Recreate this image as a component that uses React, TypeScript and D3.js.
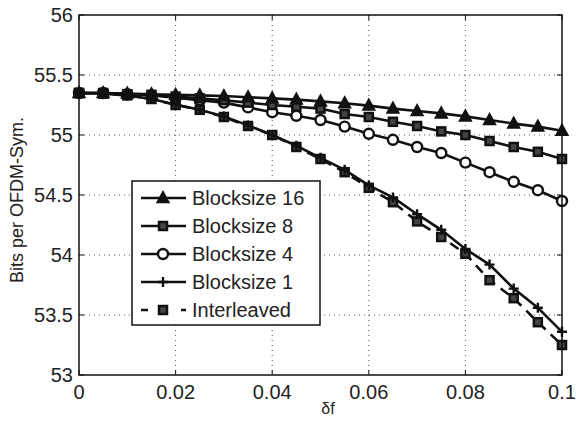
import React, { useEffect, useRef } from "react";
import * as d3 from "d3";

// δf sample points
const deltaF = [
  0, 0.005, 0.01, 0.015, 0.02, 0.025, 0.03, 0.035, 0.04, 0.045, 0.05,
  0.055, 0.06, 0.065, 0.07, 0.075, 0.08, 0.085, 0.09, 0.095, 0.1,
];

const block16 = [
  55.35, 55.35, 55.345, 55.34, 55.335, 55.33, 55.325, 55.315, 55.305, 55.295, 55.28,
  55.265, 55.245, 55.22, 55.2, 55.18, 55.155, 55.125, 55.095, 55.07, 55.035,
];
const block8 = [
  55.35, 55.35, 55.34, 55.335, 55.32, 55.305, 55.29, 55.27, 55.25, 55.235, 55.22,
  55.175, 55.15, 55.11, 55.075, 55.03, 55.0, 54.95, 54.9, 54.86, 54.8,
];
const block4 = [
  55.35, 55.35, 55.34, 55.33, 55.31, 55.29, 55.27, 55.23, 55.19, 55.16, 55.125,
  55.07, 55.01, 54.96, 54.9, 54.85, 54.77, 54.69, 54.61, 54.54, 54.45,
];
const block1 = [
  55.35, 55.345, 55.33, 55.3, 55.255, 55.21, 55.155, 55.08, 55.0, 54.91, 54.81,
  54.71, 54.58, 54.48, 54.34, 54.21, 54.05, 53.92, 53.72, 53.56, 53.36,
];
const interleaved = [
  55.35, 55.345, 55.33, 55.3, 55.25, 55.21, 55.15, 55.075, 55.0, 54.9, 54.8,
  54.69, 54.56, 54.44, 54.28, 54.15, 54.01, 53.79, 53.64, 53.44, 53.25,
];

const xTicks = [0, 0.02, 0.04, 0.06, 0.08, 0.1];
const yTicks = [53, 53.5, 54, 54.5, 55, 55.5, 56];

const seriesNames = ["Blocksize 16", "Blocksize 8", "Blocksize 4", "Blocksize 1", "Interleaved"];
const seriesValues = [block16, block8, block4, block1, interleaved];
const seriesMarkers = ["triangle", "square", "circle", "plus", "square"];
const seriesDashed = [false, false, false, false, true];

const FONT = "'Liberation Sans', Arial, Helvetica, sans-serif";

export default function App() {
  const svgRef = useRef<SVGSVGElement>(null);

  useEffect(() => {
    const width = 576;
    const height = 421;
    const left = 79, right = 562, top = 15, bottom = 375;

    const svg = d3.select(svgRef.current);
    svg.selectAll("*").remove();
    svg.attr("width", width).attr("height", height);

    svg.append("rect").attr("width", width).attr("height", height).attr("fill", "white");

    const x = d3.scaleLinear().domain([0, 0.1]).range([left, right]);
    const y = d3.scaleLinear().domain([53, 56]).range([bottom, top]);

    // grid
    const grid = svg.append("g")
      .attr("stroke", "#555")
      .attr("stroke-width", 1)
      .attr("stroke-dasharray", "1,4");
    xTicks.slice(1, -1).forEach((t) => {
      grid.append("line").attr("x1", x(t)).attr("x2", x(t)).attr("y1", top).attr("y2", bottom);
    });
    yTicks.slice(1, -1).forEach((t) => {
      grid.append("line").attr("x1", left).attr("x2", right).attr("y1", y(t)).attr("y2", y(t));
    });

    // ticks (inward, on all four sides)
    const tl = 5;
    const ticks = svg.append("g").attr("stroke", "#111").attr("stroke-width", 1);
    xTicks.forEach((t) => {
      ticks.append("line").attr("x1", x(t)).attr("x2", x(t)).attr("y1", bottom).attr("y2", bottom - tl);
      ticks.append("line").attr("x1", x(t)).attr("x2", x(t)).attr("y1", top).attr("y2", top + tl);
    });
    yTicks.forEach((t) => {
      ticks.append("line").attr("x1", left).attr("x2", left + tl).attr("y1", y(t)).attr("y2", y(t));
      ticks.append("line").attr("x1", right).attr("x2", right - tl).attr("y1", y(t)).attr("y2", y(t));
    });

    // tick labels
    svg.append("g")
      .selectAll("text")
      .data(xTicks)
      .join("text")
      .attr("x", (d) => x(d))
      .attr("y", 399)
      .attr("text-anchor", "middle")
      .style("font-family", FONT)
      .style("font-size", "20px")
      .attr("fill", "#222")
      .text((d) => d3.format("~g")(d));

    svg.append("g")
      .selectAll("text")
      .data(yTicks)
      .join("text")
      .attr("x", 73)
      .attr("y", (d) => y(d) + 7)
      .attr("text-anchor", "end")
      .style("font-family", FONT)
      .style("font-size", "20px")
      .attr("fill", "#222")
      .text((d) => d3.format("~g")(d));

    // axis labels
    svg.append("text")
      .attr("x", 328)
      .attr("y", 414)
      .attr("text-anchor", "middle")
      .style("font-family", FONT)
      .style("font-size", "16px")
      .attr("fill", "#222")
      .text("δf");

    svg.append("text")
      .attr("transform", `translate(23, 200) rotate(-90)`)
      .attr("text-anchor", "middle")
      .style("font-family", FONT)
      .style("font-size", "18px")
      .attr("fill", "#222")
      .text("Bits per OFDM-Sym.");

    const drawMarker = (g: any, kind: string, cx: number, cy: number) => {
      if (kind === "triangle") {
        g.append("path")
          .attr("d", `M${cx},${cy - 6.5}L${cx + 6},${cy + 4.5}L${cx - 6},${cy + 4.5}Z`)
          .attr("fill", "#111").attr("stroke", "#111").attr("stroke-width", 1.5);
      } else if (kind === "square") {
        g.append("rect")
          .attr("x", cx - 4).attr("y", cy - 4).attr("width", 8).attr("height", 8)
          .attr("fill", "#444").attr("stroke", "#111").attr("stroke-width", 2.5);
      } else if (kind === "circle") {
        g.append("circle")
          .attr("cx", cx).attr("cy", cy).attr("r", 5)
          .attr("fill", "white").attr("stroke", "#111").attr("stroke-width", 2.4);
      } else if (kind === "plus") {
        g.append("path")
          .attr("d", `M${cx - 5},${cy}H${cx + 5}M${cx},${cy - 5}V${cy + 5}`)
          .attr("stroke", "#111").attr("stroke-width", 2.4);
      }
    };

    const line = d3.line<number>()
      .x((_, i) => x(deltaF[i]))
      .y((d) => y(d));

    // draw bottom series first so Blocksize 16 sits on top
    for (let s = seriesValues.length - 1; s >= 0; s--) {
      const g = svg.append("g");
      g.append("path")
        .datum(seriesValues[s])
        .attr("d", line)
        .attr("fill", "none")
        .attr("stroke", "#111")
        .attr("stroke-width", 2.6)
        .attr("stroke-dasharray", seriesDashed[s] ? "10,7" : null);
      seriesValues[s].forEach((v, i) => drawMarker(g, seriesMarkers[s], x(deltaF[i]), y(v)));
    }

    // axes box
    svg.append("rect")
      .attr("x", left).attr("y", top)
      .attr("width", right - left).attr("height", bottom - top)
      .attr("fill", "none").attr("stroke", "#111").attr("stroke-width", 1.5);

    // legend
    const lg = svg.append("g");
    lg.append("rect")
      .attr("x", 132).attr("y", 181).attr("width", 188).attr("height", 144)
      .attr("fill", "white").attr("stroke", "#111").attr("stroke-width", 1.5);
    seriesNames.forEach((name, i) => {
      const cy = 198 + i * 28;
      lg.append("line")
        .attr("x1", 141).attr("x2", 186).attr("y1", cy).attr("y2", cy)
        .attr("stroke", "#111").attr("stroke-width", 2.6)
        .attr("stroke-dasharray", seriesDashed[i] ? "7,13" : null);
      drawMarker(lg, seriesMarkers[i], 163, cy);
      lg.append("text")
        .attr("x", 192).attr("y", cy + 7)
        .style("font-family", FONT)
        .style("font-size", "20px")
        .attr("fill", "#222")
        .text(name);
    });
  }, []);

  return (
    <div style={{ position: "absolute", left: 0, top: 0 }}>
      <svg ref={svgRef} style={{ display: "block" }}></svg>
    </div>
  );
}
